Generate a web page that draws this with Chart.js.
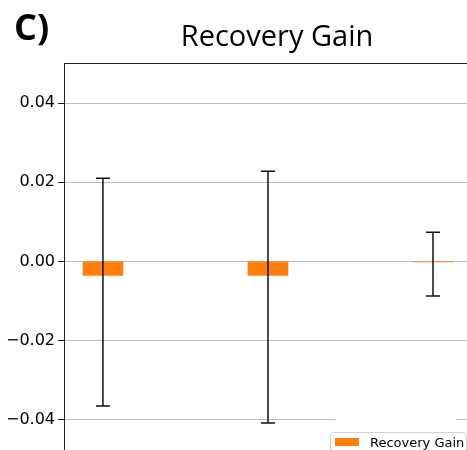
<!DOCTYPE html>
<html>
<head>
<meta charset="utf-8">
<script src="https://cdn.jsdelivr.net/npm/chart.js@4"></script>
<style>
  html, body { margin: 0; padding: 0; background: #fff; }
  #wrap { width: 467px; height: 450px; }
</style>
</head>
<body>
<div id="wrap"><canvas id="chart" width="467" height="450"></canvas></div>
<script>
// data
const positions = [0, 1, 2];
const gainValues = [-0.0035, -0.0035, -0.0001];
const errLow = [-0.0365, -0.0408, -0.0087];
const errHigh = [0.0210, 0.0228, 0.0074];
const yTicks = [-0.04, -0.02, 0.0, 0.02, 0.04];
const seriesLabel = "Recovery Gain";
const chartTitle = "Recovery Gain";
const panelLabel = "C)";

const orange = "#ff7f0e";

// error bars drawn through the scales
const errorBars = {
  id: "errorBars",
  afterDatasetsDraw(chart) {
    const { ctx, scales } = chart;
    ctx.save();
    ctx.strokeStyle = "#111";
    ctx.lineWidth = 1.5;
    positions.forEach((p, i) => {
      const x = scales.x.getPixelForValue(p);
      const yLo = scales.y.getPixelForValue(errLow[i]);
      const yHi = scales.y.getPixelForValue(errHigh[i]);
      ctx.beginPath();
      ctx.moveTo(x, yLo);
      ctx.lineTo(x, yHi);
      ctx.moveTo(x - 7, yHi);
      ctx.lineTo(x + 7, yHi);
      ctx.moveTo(x - 7, yLo);
      ctx.lineTo(x + 7, yLo);
      ctx.stroke();
    });
    ctx.restore();
  }
};

// title, panel letter, top spine and the clipped legend
const decorations = {
  id: "decorations",
  afterDraw(chart) {
    const { ctx, chartArea } = chart;
    ctx.save();
    // top spine
    ctx.strokeStyle = "#222";
    ctx.lineWidth = 1;
    ctx.beginPath();
    ctx.moveTo(chartArea.left, chartArea.top + 0.5);
    ctx.lineTo(chartArea.right, chartArea.top + 0.5);
    ctx.stroke();

    ctx.fillStyle = "#000";
    ctx.textBaseline = "alphabetic";
    ctx.textAlign = "center";
    ctx.font = "29px 'Open Sans'";
    ctx.fillText(chartTitle, 277, 46);

    ctx.textAlign = "left";
    ctx.font = "bold 36px 'Open Sans'";
    ctx.fillText(panelLabel, 14, 40);

    // legend (cut by the bottom edge)
    ctx.fillStyle = "#fff";
    ctx.fillRect(335, 418, 121, 4);
    ctx.beginPath();
    ctx.roundRect(330.5, 432.5, 136, 30, 3);
    ctx.fill();
    ctx.strokeStyle = "#d0d0d0";
    ctx.stroke();
    ctx.fillStyle = orange;
    ctx.fillRect(335, 438, 24, 8);
    ctx.fillStyle = "#000";
    ctx.font = "13px 'DejaVu Sans'";
    ctx.fillText(seriesLabel, 370, 447);
    ctx.restore();
  }
};

new Chart(document.getElementById("chart"), {
  type: "bar",
  data: {
    datasets: [{
      label: seriesLabel,
      data: positions.map((p, i) => ({ x: p, y: gainValues[i] })),
      backgroundColor: orange,
      borderWidth: 0,
      barThickness: 40
    }]
  },
  options: {
    responsive: false,
    animation: false,
    layout: { padding: { top: 63, right: 0, bottom: 0, left: 0 } },
    plugins: {
      legend: { display: false },
      title: { display: false },
      tooltip: { enabled: false }
    },
    scales: {
      x: {
        type: "linear",
        offset: false,
        min: -0.236,
        max: 2.206,
        display: false
      },
      y: {
        min: -0.0476,
        max: 0.0501,
        afterBuildTicks(scale) {
          scale.ticks = yTicks.map(v => ({ value: v }));
        },
        afterFit(scale) {
          scale.width = 64;
          scale.paddingTop = 0;
          scale.paddingBottom = 0;
        },
        grid: {
          color: "#bdbdbd",
          lineWidth: 1,
          tickColor: "#222",
          tickLength: 6,
          drawTicks: true
        },
        border: { display: true, color: "#222", width: 1 },
        ticks: {
          color: "#000",
          padding: 3,
          font: { family: "'DejaVu Sans'", size: 16 },
          callback: v => (v < 0 ? "\u2212" : "") + Math.abs(v).toFixed(2)
        }
      }
    }
  },
  plugins: [errorBars, decorations]
});
</script>
</body>
</html>
